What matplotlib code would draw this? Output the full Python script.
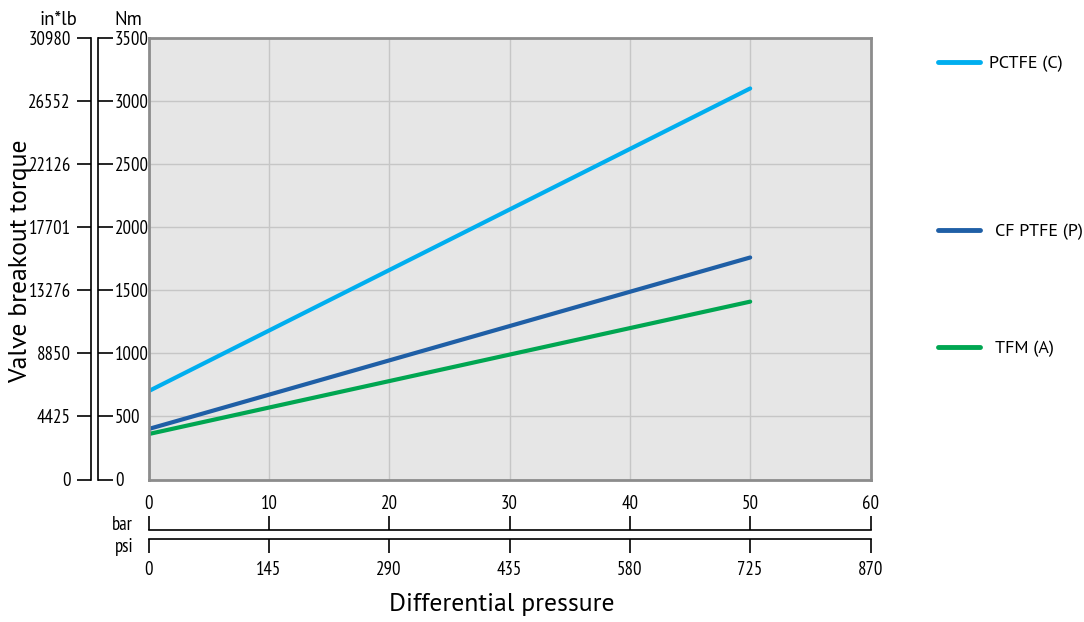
import matplotlib
matplotlib.use('Agg')
import matplotlib.pyplot as plt

plt.rcParams['font.family'] = ['PT Sans Narrow', 'DejaVu Sans']
wide = ['PT Sans', 'DejaVu Sans']

### chart data
pressure_bar = [0, 50]
pctfe_c = [700, 3100]
cf_ptfe_p = [400, 1760]
tfm_a = [360, 1410]

series_names = ['PCTFE (C)', 'CF PTFE (P)', 'TFM (A)']
series_colors = ['#00aeef', '#1f5fa6', '#00a651']

nm_ticks = [0, 500, 1000, 1500, 2000, 2500, 3000, 3500]
inlb_labels = ['0', '4425', '8850', '13276', '17701', '22126', '26552', '30980']
bar_ticks = [0, 10, 20, 30, 40, 50, 60]
psi_labels = ['0', '145', '290', '435', '580', '725', '870']

W, H = 1084, 622
fig = plt.figure(figsize=(W / 100, H / 100), dpi=100)


def fx(px):
    return px / W


def fy(py):
    return 1 - py / H


left, right, top, bottom = 148.5, 870.5, 38, 479.5
fs = 13.5

### main plot
ax = fig.add_axes([fx(left), fy(bottom), fx(right) - fx(left), fy(top) - fy(bottom)])
ax.set_facecolor('#e6e6e6')
lines = []
for vals, name, col in zip([pctfe_c, cf_ptfe_p, tfm_a], series_names, series_colors):
    ln, = ax.plot(pressure_bar, vals, color=col, lw=3, solid_capstyle='round', label=name)
    lines.append(ln)
ax.set_xlim(0, 60)
ax.set_ylim(0, 3500)
ax.set_xticks(bar_ticks)
ax.set_yticks(nm_ticks)
ax.tick_params(length=0, labelbottom=False, labelleft=False)
ax.grid(True, color='#c6c6c6', lw=1)
for s in ax.spines.values():
    s.set_color('#8c8c8c')
    s.set_linewidth(2)

### Nm axis
ax_nm = fig.add_axes([fx(96.5), fy(bottom), fx(1), fy(top) - fy(bottom)])
ax_nm.patch.set_visible(False)
for k in ['left', 'top', 'bottom']:
    ax_nm.spines[k].set_visible(False)
ax_nm.spines['right'].set_linewidth(1.2)
ax_nm.set_ylim(0, 3500)
ax_nm.set_yticks(nm_ticks)
ax_nm.yaxis.tick_right()
ax_nm.set_xticks([])
ax_nm.tick_params(axis='y', length=11, width=1.2, pad=1.5, labelsize=fs)
fig.text(fx(114), fy(20), 'Nm', fontsize=13.5, ha='left', va='center', family=wide)

### in*lb axis
ax_in = fig.add_axes([fx(91), fy(bottom), fx(1), fy(top) - fy(bottom)])
ax_in.patch.set_visible(False)
for k in ['right', 'top', 'bottom']:
    ax_in.spines[k].set_visible(False)
ax_in.spines['left'].set_linewidth(1.2)
ax_in.set_ylim(0, 3500)
ax_in.set_yticks(nm_ticks)
ax_in.set_yticklabels(inlb_labels)
ax_in.set_xticks([])
ax_in.tick_params(axis='y', length=10, width=1.2, pad=4.5, labelsize=fs)
fig.text(fx(58), fy(20), 'in*lb', fontsize=13.5, ha='center', va='center', family=wide)
fig.text(fx(21), fy(261), 'Valve breakout torque', fontsize=18.5, rotation=90,
         ha='center', va='center', family=wide)

### bar axis
ax_bar = fig.add_axes([fx(left), fy(531), fx(right) - fx(left), fx(1)])
ax_bar.patch.set_visible(False)
for k in ['left', 'right', 'bottom']:
    ax_bar.spines[k].set_visible(False)
ax_bar.spines['top'].set_linewidth(1.2)
ax_bar.set_xlim(0, 60)
ax_bar.set_xticks(bar_ticks)
ax_bar.xaxis.tick_top()
ax_bar.set_yticks([])
ax_bar.tick_params(axis='x', length=10, width=1.2, pad=2.5, labelsize=fs)
fig.text(fx(133), fy(525), 'bar', fontsize=fs, ha='right', va='center')

### psi axis
ax_psi = fig.add_axes([fx(left), fy(538) - fx(1) * W / H, fx(right) - fx(left), fx(1) * W / H])
ax_psi.patch.set_visible(False)
for k in ['left', 'right', 'top']:
    ax_psi.spines[k].set_visible(False)
ax_psi.spines['bottom'].set_linewidth(1.2)
ax_psi.set_xlim(0, 60)
ax_psi.set_xticks(bar_ticks)
ax_psi.set_xticklabels(psi_labels)
ax_psi.set_yticks([])
ax_psi.tick_params(axis='x', length=10, width=1.2, pad=5.5, labelsize=fs)
fig.text(fx(133), fy(547), 'psi', fontsize=fs, ha='right', va='center')
fig.text(fx(502), fy(605), 'Differential pressure', fontsize=18.5, ha='center', va='center',
         family=wide)

### legend, one entry per line at the reference spacing
for ln, ypx, gap in zip(lines, [64, 232, 349], [0.55, 0.85, 0.85]):
    leg = fig.legend(handles=[ln], loc='center left', bbox_to_anchor=(fx(938), fy(ypx)),
                     frameon=False, prop={'family': wide, 'size': 13}, handlelength=2.3,
                     handletextpad=gap, borderaxespad=0, borderpad=0)
    leg.get_lines()[0].set_linewidth(3.5)

fig.savefig('out.png', dpi=100)
